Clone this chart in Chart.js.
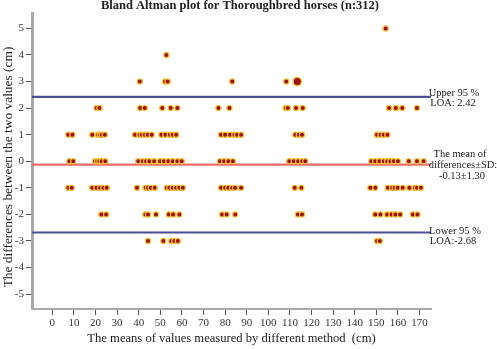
<!DOCTYPE html>
<html>
<head>
<meta charset="utf-8">
<script src="https://cdn.jsdelivr.net/npm/chart.js@4.4.1/dist/chart.umd.min.js"></script>
<style>
  html, body { margin: 0; padding: 0; background: #fff; }
</style>
</head>
<body>
<canvas id="chart" width="497" height="349"></canvas>
<script>
// means (cm) of the horses, grouped by the difference between the two values
const meansAtPlus5 = [154.3]
const meansAtPlus4 = [52.8]
const meansAtPlus3 = [40.5, 52.2, 53.4, 83.3, 108.3]
const meansAtPlus2 = [20.5, 21.8, 40.7, 42.8, 50.9, 54.8, 57.9, 76.9, 82, 108, 109, 112.8, 115.9, 155.9, 159, 162, 168.8]
const meansAtPlus1 = [7.4, 9.3, 18.5, 21.2, 22.1, 23, 24.3, 38.3, 40.3, 41.4, 42.8, 44.2, 46, 50.5, 52.3, 54.4, 55.7, 57.3,
  78.1, 80, 82.3, 84.3, 85.5, 87.4, 112.5, 114.1, 115.6, 150.3, 151.9, 153.4, 155.1]
const meansAtZero = [7.9, 9.7, 19.8, 20.8, 21.8, 22.9, 24.5, 39.8, 41.9, 43.4, 44.9, 47.1, 49.9, 51.7, 53.7, 55.7, 57.9, 59.9,
  77.6, 79.5, 81.5, 83.6, 109.7, 111.8, 113.8, 115.6, 117.1, 147.7, 149.5, 151.4, 153.4, 155, 156.5, 158.1, 160, 165, 168.8, 171.9]
const meansAtMinus1 = [7.4, 9.0, 18.5, 20.4, 22.1, 23.6, 25.2, 39.2, 43.2, 44.3, 45.6, 47.4, 53, 54.2, 55.7, 57.3, 58.8, 60.4,
  78.1, 80, 81.5, 83.3, 84.6, 87.4, 112.2, 115.3, 147.2, 149.5, 155.3, 157.3, 158.5, 159.9, 162.2, 165.3, 167.8, 168.8, 170.6]
const meansAtMinus2 = [22.7, 24.9, 43.1, 44.3, 48, 53.9, 55.9, 58.8, 78.6, 80.7, 84.7, 113.7, 115.6, 149.5, 151.9, 155, 157, 158.8, 161, 166.9, 169]
const meansAtMinus3 = [44.3, 51.4, 55.1, 56.5, 58.1, 150.3, 151.6]

// point that stands for several horses at once (drawn larger)
const groupedMean = [113.4]
const groupedDiff = [3]

const meanDiff = -0.13
const sdDiff = 1.30
const upperLoa = 2.42
const lowerLoa = -2.68

const xTicks = [0, 10, 20, 30, 40, 50, 60, 70, 80, 90, 100, 110, 120, 130, 140, 150, 160, 170]
const yTicks = [-5, -4, -3, -2, -1, 0, 1, 2, 3, 4, 5]
const xMin = -9.4, xMax = 175.3
const yMin = -5.56, yMax = 5.58

const rows = [
  [5, meansAtPlus5], [4, meansAtPlus4], [3, meansAtPlus3], [2, meansAtPlus2], [1, meansAtPlus1],
  [0, meansAtZero], [-1, meansAtMinus1], [-2, meansAtMinus2], [-3, meansAtMinus3]
]
const points = []
rows.forEach(([d, list]) => list.forEach(m => points.push({ x: m, y: d })))

const serif = 'Liberation Serif'

function hLine(value, color) {
  return {
    type: 'line',
    data: [{ x: xMin, y: value }, { x: xMax, y: value }],
    borderColor: color,
    borderWidth: 2.2,
    pointRadius: 0,
    fill: false
  }
}

// title, y axis title and the texts right of the lines
const textPlugin = {
  id: 'texts',
  afterDraw(chart) {
    const ctx = chart.ctx
    const y = chart.scales.y
    ctx.save()
    ctx.fillStyle = '#222'
    ctx.textAlign = 'center'
    ctx.textBaseline = 'middle'
    ctx.font = `bold 12.5px "${serif}"`
    ctx.fillText('Bland Altman plot for Thoroughbred horses (n:312)', 240, 6)

    ctx.save()
    ctx.translate(8, 167)
    ctx.rotate(-Math.PI / 2)
    ctx.font = `13.4px "${serif}"`
    ctx.fillText('The differences between the two values (cm)', 0, 0)
    ctx.restore()

    ctx.font = `10.5px "${serif}"`
    const up = y.getPixelForValue(upperLoa)
    ctx.fillText('Upper 95 %', 454, up - 4)
    ctx.fillText('LOA: ' + upperLoa.toFixed(2), 453, up + 6)

    const mid = y.getPixelForValue(meanDiff)
    ctx.fillText('The mean of', 460, mid - 10)
    ctx.fillText('differences\u00b1SD:', 463, mid + 0.5)
    ctx.fillText(meanDiff.toFixed(2) + '\u00b1' + sdDiff.toFixed(2), 462, mid + 12)

    const low = y.getPixelForValue(lowerLoa)
    ctx.fillText('Lower 95 %', 455, low - 1.5)
    ctx.fillText('LOA:' + lowerLoa.toFixed(2), 453, low + 8.5)
    ctx.restore()
  }
}

new Chart(document.getElementById('chart'), {
  type: 'scatter',
  data: {
    datasets: [
      {
        data: groupedMean.map((m, i) => ({ x: m, y: groupedDiff[i] })),
        backgroundColor: '#a0100c',
        borderColor: '#f3c33c',
        borderWidth: 1.3,
        pointRadius: 4.2
      },
      {
        data: points,
        backgroundColor: '#a0100c',
        borderColor: '#f3c33c',
        borderWidth: 1.2,
        pointRadius: 2.6
      },
      hLine(upperLoa, '#4c5096'),
      hLine(meanDiff, '#ef6a6a'),
      hLine(lowerLoa, '#4c5096')
    ]
  },
  options: {
    responsive: false,
    animation: false,
    layout: { padding: { top: 13, right: 66, left: 0, bottom: 0 } },
    plugins: { legend: { display: false }, tooltip: { enabled: false } },
    scales: {
      x: {
        type: 'linear',
        min: xMin,
        max: xMax,
        afterBuildTicks: s => { s.ticks = xTicks.map(v => ({ value: v })) },
        afterFit: s => { s.height = 40 },
        border: { display: true, color: '#a8a8a8', width: 2 },
        grid: { drawOnChartArea: false, drawTicks: true, tickLength: 6, color: '#555', lineWidth: 1 },
        ticks: { color: '#333', padding: 2, maxRotation: 0, autoSkip: false, font: { family: serif, size: 11 } },
        title: { display: true, text: 'The means of values measured by different method  (cm)', color: '#222',
          padding: { top: 0, bottom: 3 }, font: { family: serif, size: 12.6 } }
      },
      y: {
        type: 'linear',
        min: yMin,
        max: yMax,
        afterBuildTicks: s => { s.ticks = yTicks.map(v => ({ value: v })) },
        afterFit: s => { s.width = 32 },
        border: { display: true, color: '#a8a8a8', width: 3 },
        grid: { drawOnChartArea: false, drawTicks: true, tickLength: 6, color: '#555', lineWidth: 1 },
        ticks: { color: '#333', padding: 2, autoSkip: false, font: { family: serif, size: 11 } }
      }
    }
  },
  plugins: [textPlugin]
})
</script>
</body>
</html>
